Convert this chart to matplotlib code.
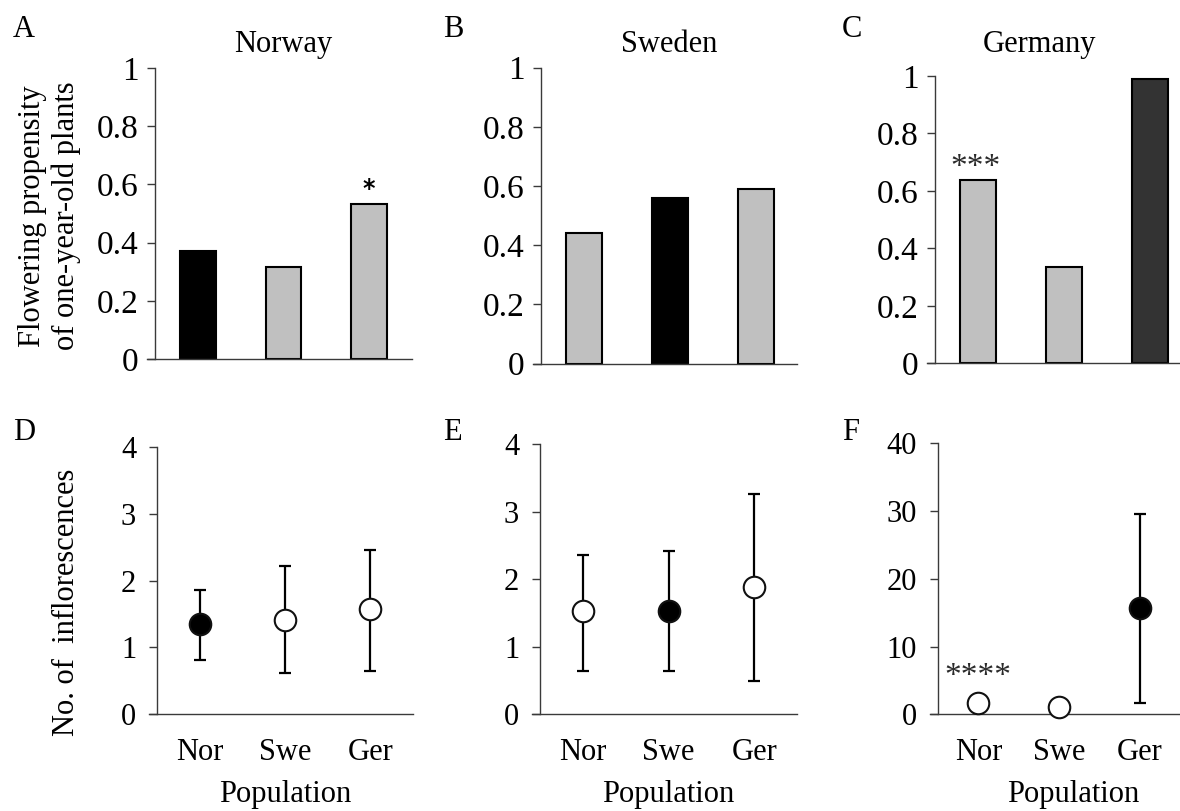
import matplotlib
matplotlib.use('Agg')
import matplotlib.pyplot as plt

# ---------------- data ----------------
populations = ['Nor', 'Swe', 'Ger']
countries = ['Norway', 'Sweden', 'Germany']
panel_letters_top = ['A', 'B', 'C']
panel_letters_bottom = ['D', 'E', 'F']

# flowering propensity of one-year-old plants (panels A-C)
flower_norway = [0.372, 0.317, 0.534]
flower_sweden = [0.443, 0.559, 0.590]
flower_germany = [0.637, 0.336, 0.988]

# number of inflorescences (panels D-F): mean, lower, upper
infl_norway_mean = [1.345, 1.41, 1.57]
infl_norway_low = [0.807, 0.62, 0.65]
infl_norway_up = [1.858, 2.22, 2.46]

infl_sweden_mean = [1.526, 1.536, 1.89]
infl_sweden_low = [0.647, 0.647, 0.499]
infl_sweden_up = [2.356, 2.415, 3.264]

infl_germany_mean = [1.67, 1.13, 15.76]
infl_germany_low = [1.67, 1.13, 1.67]
infl_germany_up = [1.67, 1.13, 29.6]

top_yticks = [0, 0.2, 0.4, 0.6, 0.8, 1]
top_yticklabels = ['0', '0.2', '0.4', '0.6', '0.8', '1']
bottom_yticks_small = [0, 1, 2, 3, 4]
bottom_yticks_large = [0, 10, 20, 30, 40]

sig_top = ['*', '', '***']
sig_top_idx = [2, None, 0]
sig_bottom = ['', '', '****']
sig_bottom_idx = [None, None, 0]

# ---------------- style ----------------
W, H = 1180, 811
plt.rcParams['font.family'] = ['Liberation Serif', 'DejaVu Serif']
fig = plt.figure(figsize=(W / 100, H / 100), dpi=100)

SPINE = '#3a3a3a'


def add_px_axes(x0, x1, ybot, ytop):
    return fig.add_axes([x0 / W, 1 - ybot / H, (x1 - x0) / W, (ybot - ytop) / H])


def style(ax, ytick_size, pad):
    for s in ['top', 'right']:
        ax.spines[s].set_visible(False)
    for s in ['left', 'bottom']:
        ax.spines[s].set_color(SPINE)
        ax.spines[s].set_linewidth(1.0)
    ax.tick_params(axis='y', direction='out', length=6, width=1.0, color=SPINE,
                   labelsize=ytick_size, pad=pad)
    ax.set_facecolor('none')


# ---------------- top row (bars) ----------------
top_boxes = [(155, 412, 359, 68, 2.5), (541, 797, 363.7, 67.7, 2.48), (935, 1180, 363.3, 76, 2.35)]
top_data = [flower_norway, flower_sweden, flower_germany]
top_colors = [['#000000', '#c0c0c0', '#c0c0c0'],
              ['#c0c0c0', '#000000', '#c0c0c0'],
              ['#c0c0c0', '#c0c0c0', '#333333']]
xs = list(range(len(populations)))

for i, (box, vals, cols) in enumerate(zip(top_boxes, top_data, top_colors)):
    x0, x1, yb, yt, xr = box
    ax = add_px_axes(x0, x1, yb, yt)
    ax.bar(xs, vals, width=0.42, color=cols, edgecolor='black', linewidth=1.5, zorder=2)
    ax.set_xlim(-0.5, xr)
    ax.set_ylim(0, 1)
    ax.set_yticks(top_yticks)
    ax.set_yticklabels(top_yticklabels)
    ax.set_xticks([])
    style(ax, 24, 6)
    ax.spines['bottom'].set_bounds(-0.5 - 8 / 86, xr)
    if sig_top_idx[i] is not None:
        j = sig_top_idx[i]
        bold = (sig_top[i] == '*')
        if bold:
            ax.text(j, vals[j] + 0.05, sig_top[i], ha='center', va='center',
                    fontsize=17, fontweight='bold', color='black', clip_on=False,
                    family=['DejaVu Sans'])
        else:
            ax.text(j - 0.03, vals[j] + 0.045, sig_top[i], ha='center', va='center',
                    fontsize=24, color='#2a2a2a', clip_on=False)
    fig.text((x0 + x1) / 2 / W if i < 2 else 1040 / W, 1 - 52 / H, countries[i],
             ha='center', va='baseline', fontsize=22)
    fig.text([13, 443, 842][i] / W, 1 - 37 / H, panel_letters_top[i],
             ha='left', va='baseline', fontsize=22)

# ---------------- bottom row (points) ----------------
bottom_boxes = [(157, 413, 714.3, 446.7), (540, 797, 714.3, 444.3), (938, 1180, 714.3, 443.3)]
bottom_means = [infl_norway_mean, infl_sweden_mean, infl_germany_mean]
bottom_low = [infl_norway_low, infl_sweden_low, infl_germany_low]
bottom_up = [infl_norway_up, infl_sweden_up, infl_germany_up]
bottom_fill = [['black', 'white', 'white'],
               ['white', 'black', 'white'],
               ['white', 'white', 'black']]
bottom_ticks = [bottom_yticks_small, bottom_yticks_small, bottom_yticks_large]

for i, box in enumerate(bottom_boxes):
    x0, x1, yb, yt = box
    ax = add_px_axes(x0, x1, yb, yt)
    m, lo, up = bottom_means[i], bottom_low[i], bottom_up[i]
    for j in xs:
        if up[j] > m[j]:
            ax.errorbar([j], [m[j]], yerr=[[m[j] - lo[j]], [up[j] - m[j]]], fmt='none',
                        ecolor='black', elinewidth=1.6, capsize=4, capthick=1.6, zorder=2,
                        clip_on=False)
        ax.plot([j], [m[j]], 'o', markersize=15.5, markerfacecolor=bottom_fill[i][j],
                markeredgecolor='#111111', markeredgewidth=1.5, zorder=3, clip_on=False)
    t = bottom_ticks[i]
    ax.set_xlim(-0.5, 2.5)
    ax.set_ylim(t[0], t[-1])
    ax.set_yticks(t)
    ax.set_yticklabels([str(v) for v in t])
    ax.set_xticks(xs)
    ax.set_xticklabels(populations)
    style(ax, 22, 9)
    ax.tick_params(axis='x', length=0, labelsize=22, pad=17)
    ax.spines['bottom'].set_bounds(-0.5 - 8 / 86, 2.5)
    if sig_bottom_idx[i] is not None:
        j = sig_bottom_idx[i]
        ax.text(j, 5.6, sig_bottom[i], ha='center', va='center', fontsize=24,
                color='#2a2a2a', clip_on=False)
    fig.text((x0 + x1) / 2 / W + (0.012 if i == 2 else 0.0), 1 - 802 / H, 'Population',
             ha='center', va='baseline', fontsize=22)
    fig.text([13, 443, 842][i] / W, 1 - 440 / H, panel_letters_bottom[i],
             ha='left', va='baseline', fontsize=22)

# y-axis labels
fig.text(33 / W, 1 - 216 / H, 'Flowering propensity', rotation=90,
         ha='center', va='center', fontsize=22)
fig.text(66 / W, 1 - 216 / H, 'of one-year-old plants', rotation=90,
         ha='center', va='center', fontsize=22)
fig.text(67 / W, 1 - 602 / H, 'No. of  inflorescences', rotation=90,
         ha='center', va='center', fontsize=22)

fig.savefig('out.png', dpi=100)
